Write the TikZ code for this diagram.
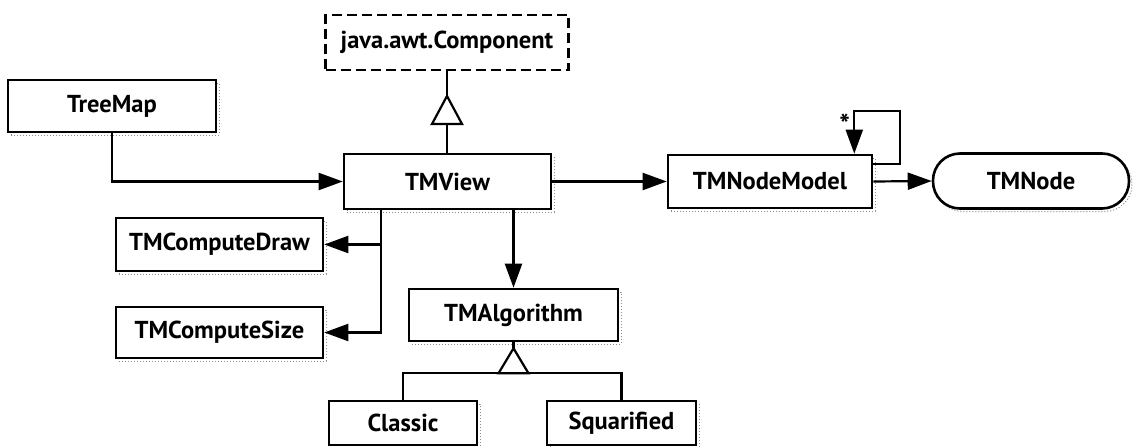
\documentclass[tikz,border=0pt]{standalone}
\usepackage{fontspec}
\setmainfont{PT Sans}
\usetikzlibrary{arrows.meta}
\begin{document}
\begin{tikzpicture}[x=1pt,y=1pt,
  cls/.style={draw, line width=2.6pt, fill=white, font=\bfseries\fontsize{24.5}{28}\selectfont, inner sep=0pt},
  shadowed/.style={preaction={draw=black!45, line width=1pt, dotted, transform canvas={xshift=3pt,yshift=-3pt}}},
  conn/.style={line width=2.2pt},
  arr/.style={conn, -{Triangle[length=24pt,width=17pt]}},
  gen/.style={line width=2.2pt, fill=white, line join=miter}
]
\useasboundingbox (0,0) rectangle (1133,-447);
\fill[white] (0,0) rectangle (1133,-447);

\node[cls, dashed, dash pattern=on 10pt off 5pt, minimum width=243pt, minimum height=55pt] (comp) at (447,-42.5) {java.awt.Component};
\node[cls, shadowed, minimum width=208pt, minimum height=52pt] (treemap) at (112,-106) {TreeMap};
\node[cls, shadowed, minimum width=207pt, minimum height=55pt] (tmview) at (447.5,-181.5) {TMView};
\node[cls, shadowed, minimum width=204pt, minimum height=53pt] (model) at (770,-181.5) {TMNodeModel};
\node[cls, shadowed, minimum width=196pt, minimum height=55pt, rounded corners=27pt] (tmnode) at (1031,-181) {TMNode};
\node[cls, shadowed, minimum width=207pt, minimum height=53pt] (cdraw) at (219.5,-244.5) {TMComputeDraw};
\node[cls, shadowed, minimum width=207pt, minimum height=51pt] (csize) at (219.5,-332.5) {TMComputeSize};
\node[cls, shadowed, minimum width=209pt, minimum height=52pt] (algo) at (513.5,-315) {TMAlgorithm};
\node[cls, shadowed, minimum width=148pt, minimum height=44pt] (classic) at (403,-423) {Classic};
\node[cls, shadowed, minimum width=149pt, minimum height=44pt] (squar) at (621.5,-423) {Squarified};

% inheritance TMView -> java.awt.Component
\coordinate (capex) at (comp.south |- 0,-96);
\draw[conn] (comp.south) -- (capex);
\draw[conn] ([yshift=-28pt]capex) -- (tmview.north -| capex);
\draw[gen] (capex) -- ++(-15pt,-28pt) -- ++(30pt,0) -- cycle;

% TreeMap -> TMView
\draw[arr] (treemap.south) |- (tmview.west);
% TMView -> TMNodeModel
\draw[arr] (tmview.east) -- (model.west);
% TMNodeModel -> TMNode
\draw[arr] (model.east) -- (tmnode.west);
% self loop
\draw[arr] ([yshift=-10pt]model.north east) -- ++(27pt,0) -- ++(0,53pt) -| ([xshift=-19pt]model.north east)
  node[pos=0.66, left=0pt, font=\bfseries\fontsize{28}{28}\selectfont] {*};

% TMView -> TMComputeDraw / TMComputeSize
\coordinate (split) at ([xshift=-66.5pt]tmview.south);
\draw[arr] (split) |- (csize.east);
\draw[arr] (split) |- (cdraw.east);
% TMView -> TMAlgorithm
\draw[arr] (tmview.south -| algo.north) -- (algo.north);

% inheritance Classic, Squarified -> TMAlgorithm
\coordinate (aapex) at ([yshift=-6pt]algo.south);
\draw[conn] (algo.south) -- (aapex);
\coordinate (abase) at ([yshift=-25pt]aapex);
\draw[conn, line join=miter] (classic.north) |- (abase) -| (squar.north);
\draw[gen] (aapex) -- ++(-15pt,-25pt) -- ++(30pt,0) -- cycle;
\end{tikzpicture}
\end{document}
